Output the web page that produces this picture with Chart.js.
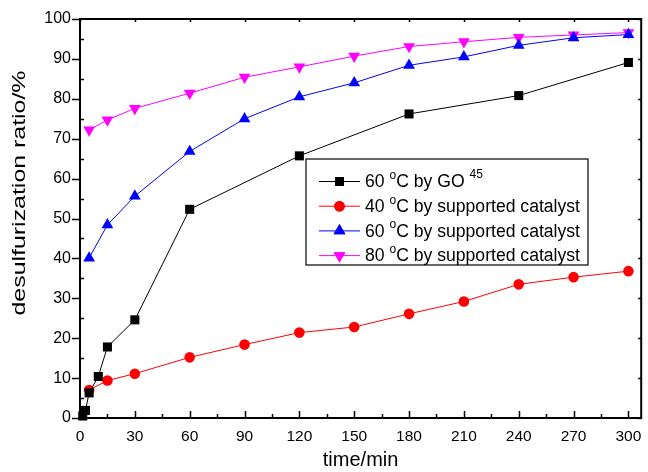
<!DOCTYPE html>
<html>
<head>
<meta charset="utf-8">
<script src="https://cdn.jsdelivr.net/npm/chart.js@4/dist/chart.umd.min.js"></script>
<style>
  html, body { margin: 0; padding: 0; background: #fff; }
  #wrap { width: 648px; height: 472px; }
</style>
</head>
<body>
<div id="wrap"><canvas id="chart" width="648" height="472"></canvas></div>
<script>
// data
var goTime = [1.5, 3, 5, 10, 15, 30, 60, 120, 180, 240, 300];
var goRatio = [0.5, 1.9, 6.3, 10.4, 17.8, 24.6, 52.3, 65.7, 76.2, 80.8, 89.1];

var catTime = [5, 15, 30, 60, 90, 120, 150, 180, 210, 240, 270, 300];
var cat40 = [7.0, 9.4, 11.1, 15.2, 18.4, 21.4, 22.8, 26.1, 29.2, 33.5, 35.3, 36.8];
var cat60 = [40.1, 48.4, 55.6, 66.8, 75.0, 80.5, 84.0, 88.4, 90.5, 93.4, 95.3, 96.1];
var cat80 = [72.2, 74.7, 77.6, 81.4, 85.4, 88.0, 90.7, 93.1, 94.3, 95.4, 96.0, 96.6];

var xTicks = [0, 30, 60, 90, 120, 150, 180, 210, 240, 270, 300];
var yTicks = [0, 10, 20, 30, 40, 50, 60, 70, 80, 90, 100];

var yTitle = "desulfurization ratio/%";
var seriesLabels = [
  ["60 ", "o", "C by GO ", "45"],
  ["40 ", "o", "C by supported catalyst", ""],
  ["60 ", "o", "C by supported catalyst", ""],
  ["80 ", "o", "C by supported catalyst", ""]
];

function pts(xs, ys) {
  return xs.map(function (x, i) { return { x: x, y: ys[i] }; });
}

var FONT = "'Liberation Sans', Arial, sans-serif";

// frame + ticks the way the original plot has them
var framePlugin = {
  id: "frame",
  afterDraw: function (chart) {
    var ctx = chart.ctx;
    var a = chart.chartArea;
    var xs = chart.scales.x, ys = chart.scales.y;
    ctx.save();
    ctx.strokeStyle = "#000";
    ctx.lineWidth = 1.5;
    ctx.beginPath();
    xTicks.forEach(function (v) {
      var px = Math.round(xs.getPixelForValue(v)) + 0.5;
      ctx.moveTo(px, a.bottom); ctx.lineTo(px, a.bottom - 7);
      ctx.moveTo(px, a.top); ctx.lineTo(px, a.top + 3);
      var m = Math.round(xs.getPixelForValue(v + 15)) + 0.5;
      if (v + 15 < 307) {
        ctx.moveTo(m, a.bottom); ctx.lineTo(m, a.bottom - 4);
      }
    });
    yTicks.forEach(function (v) {
      var py = Math.round(ys.getPixelForValue(v)) + 0.5;
      ctx.moveTo(a.left, py); ctx.lineTo(a.left - 8, py);
      ctx.moveTo(a.right, py); ctx.lineTo(a.right - 3, py);
      if (v < 100) {
        var m = Math.round(ys.getPixelForValue(v + 5)) + 0.5;
        ctx.moveTo(a.left, m); ctx.lineTo(a.left + 4, m);
      }
    });
    ctx.stroke();
    ctx.lineWidth = 2;
    ctx.strokeRect(a.left, a.top, a.right - a.left, a.bottom - a.top);

    // y title, stretched along its length like the original
    ctx.font = "18px " + FONT;
    var w = ctx.measureText(yTitle).width;
    ctx.translate(20, 193);
    ctx.rotate(-Math.PI / 2);
    ctx.scale(245 / w, 1);
    ctx.fillStyle = "#000";
    ctx.textAlign = "center";
    ctx.textBaseline = "middle";
    ctx.fillText(yTitle, 0, 0);
    ctx.restore();
  }
};

// boxed legend inside the plot, with superscripts
var legendPlugin = {
  id: "boxLegend",
  afterDraw: function (chart) {
    var ctx = chart.ctx;
    var bx = 306, by = 159, bw = 282, bh = 106;
    ctx.save();
    ctx.fillStyle = "#fff";
    ctx.fillRect(bx, by, bw, bh);
    ctx.strokeStyle = "#000";
    ctx.lineWidth = 1.2;
    ctx.strokeRect(bx, by, bw, bh);
    chart.data.datasets.forEach(function (ds, i) {
      var cy = by + 22.5 + i * 24.7;
      ctx.strokeStyle = ds.borderColor;
      ctx.lineWidth = 1;
      ctx.beginPath();
      ctx.moveTo(319, cy); ctx.lineTo(360, cy);
      ctx.stroke();
      ctx.fillStyle = ds.backgroundColor;
      Chart.helpers.drawPoint(ctx, {
        pointStyle: ds.pointStyle,
        radius: ds.pointRadius,
        rotation: ds.rotation || 0,
        borderWidth: 0
      }, 339.5, cy);
      ctx.fill();
      var parts = seriesLabels[i];
      var x = 365;
      ctx.fillStyle = "#000";
      ctx.textBaseline = "middle";
      ctx.textAlign = "left";
      ctx.font = "17.6px " + FONT;
      ctx.fillText(parts[0], x, cy + 1);
      x += ctx.measureText(parts[0]).width;
      ctx.font = "12px " + FONT;
      ctx.fillText(parts[1], x, cy - 6);
      x += ctx.measureText(parts[1]).width;
      ctx.font = "17.6px " + FONT;
      ctx.fillText(parts[2], x, cy + 1);
      x += ctx.measureText(parts[2]).width;
      if (parts[3]) {
        ctx.font = "12px " + FONT;
        ctx.fillText(parts[3], x, cy - 7);
      }
    });
    ctx.restore();
  }
};

new Chart(document.getElementById("chart"), {
  type: "line",
  data: {
    datasets: [
      {
        data: pts(goTime, goRatio),
        borderColor: "#000000",
        backgroundColor: "#000000",
        pointStyle: "rect",
        pointRadius: 6.4
      },
      {
        data: pts(catTime, cat40),
        borderColor: "#ff0000",
        backgroundColor: "#ff0000",
        pointStyle: "circle",
        pointRadius: 5.3
      },
      {
        data: pts(catTime, cat60),
        borderColor: "#0000ff",
        backgroundColor: "#0000ff",
        pointStyle: "triangle",
        pointRadius: 6.8
      },
      {
        data: pts(catTime, cat80),
        borderColor: "#ff00ff",
        backgroundColor: "#ff00ff",
        pointStyle: "triangle",
        rotation: 180,
        pointRadius: 6.8
      }
    ]
  },
  options: {
    responsive: false,
    animation: false,
    clip: false,
    datasets: {
      line: {
        borderWidth: 1,
        pointBorderWidth: 0,
        tension: 0
      }
    },
    layout: {
      padding: { top: 19, right: 6, left: 0, bottom: 0 }
    },
    plugins: {
      legend: { display: false },
      tooltip: { enabled: false }
    },
    scales: {
      x: {
        type: "linear",
        min: 0,
        max: 307,
        afterBuildTicks: function (s) {
          s.ticks = xTicks.map(function (v) { return { value: v }; });
        },
        afterFit: function (s) { s.height = 54; },
        grid: { display: false },
        border: { display: false },
        ticks: {
          color: "#000",
          padding: 1,
          maxRotation: 0,
          autoSkip: false,
          font: { family: FONT, size: 15.5 }
        },
        title: {
          display: true,
          text: "time/min",
          color: "#000",
          padding: { top: 13, bottom: 0 },
          font: { family: FONT, size: 20 }
        }
      },
      y: {
        type: "linear",
        min: 0,
        max: 100,
        afterBuildTicks: function (s) {
          s.ticks = yTicks.map(function (v) { return { value: v }; });
        },
        afterFit: function (s) { s.width = 80; },
        grid: { display: false },
        border: { display: false },
        ticks: {
          color: "#000",
          padding: 1,
          autoSkip: false,
          font: { family: FONT, size: 16 }
        },
        title: { display: false }
      }
    }
  },
  plugins: [framePlugin, legendPlugin]
});
</script>
</body>
</html>
